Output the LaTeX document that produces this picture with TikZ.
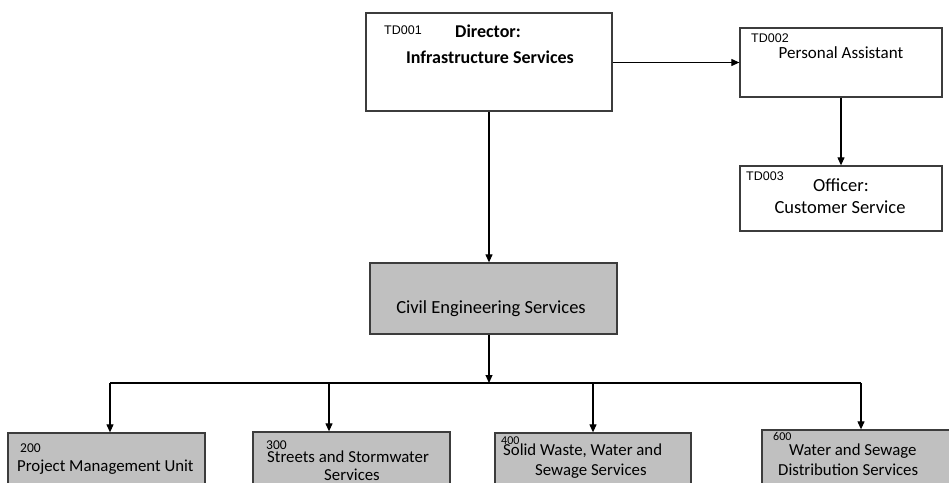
\documentclass[tikz,border=0pt]{standalone}
\usepackage{fontspec}
\setmainfont{Carlito}
\newfontfamily\codefont{Liberation Sans}
\usepackage{tikz}
\usetikzlibrary{arrows.meta,positioning,calc}

\definecolor{boxgray}{HTML}{C0C0C0}
\definecolor{edgegray}{HTML}{3C3C3C}

\begin{document}
\begin{tikzpicture}[>={Triangle[length=8pt,width=7pt]}, x=1pt, y=-1pt,
  unit/.style={draw=edgegray, line width=1.3pt, fill=white, inner sep=0pt},
  dept/.style={unit, fill=boxgray},
  link/.style={->, line width=1.1pt},
  code/.style={inner sep=0pt, anchor=base west, font=\codefont\fontsize{12.5}{14}\selectfont},
  num/.style={inner sep=0pt, anchor=base west, font=\fontsize{13.5}{15}\selectfont},
  lbl/.style={inner sep=0pt, anchor=base, font=\fontsize{18.5}{21}\selectfont},
  small/.style={inner sep=0pt, anchor=base west, font=\fontsize{16.8}{19}\selectfont}]
  \useasboundingbox (0,0) rectangle (949,482);
  \clip (0,0) rectangle (949,482);

  % Top level boxes
  \node[unit, minimum width=246pt, minimum height=98pt] (dir) at (489,62) {};
  \node[unit, minimum width=202pt, minimum height=69pt] (pa) at (841,62.5) {};
  \node[unit, minimum width=202pt, minimum height=65pt] (off) at (841,198.5) {};

  % Director text
  \node[code] (td1) at (384,34) {TD001};
  \node[lbl, font=\bfseries\fontsize{18}{21}\selectfont] (dirA) at (488,37) {Director:};
  \node[lbl, font=\bfseries\fontsize{18}{21}\selectfont] (dirB) at (490,63) {Infrastructure Services};

  % Assistant and officer text
  \node[code] (td2) at (751,42) {TD002};
  \node[lbl, font=\fontsize{17}{20}\selectfont] (paA) at (841,58) {Personal Assistant};
  \node[code] (td3) at (746,180) {TD003};
  \node[lbl] (offA) at (841,191) {Officer:};
  \node[lbl] (offB) at (840,213) {Customer Service};

  % Civil engineering box
  \node[dept, minimum width=247pt, minimum height=71pt] (ces) at (493.5,298.5) {};
  \node[lbl] (cesA) at (491,313) {Civil Engineering Services};

  % Bottom boxes (cut by the page edge)
  \node[dept, minimum width=197pt, minimum height=90pt] (b200) at (106.5,478) {};
  \node[dept, minimum width=197pt, minimum height=90pt] (b300) at (351.5,477) {};
  \node[dept, minimum width=196pt, minimum height=90pt] (b400) at (593,478) {};
  \node[dept, minimum width=190pt, minimum height=90pt] (b600) at (857,475) {};

  \node[num] (n200) at (20,452) {200};
  \node[small] (t200) at (17,471) {Project Management Unit};
  \node[num] (n300) at (266,449) {300};
  \node[small] (t300a) at (267,462) {Streets and Stormwater};
  \node[small, anchor=base] (t300b) at (352,480) {Services};
  \node[num, font=\fontsize{12}{14}\selectfont] (n400) at (501,444) {400};
  \node[small] (t400a) at (503,455) {Solid Waste, Water and};
  \node[small] (t400b) at (535,475) {Sewage Services};
  \node[num, font=\fontsize{12}{14}\selectfont] (n600) at (773,440) {600};
  \node[small] (t600a) at (789,455) {Water and Sewage};
  \node[small] (t600b) at (778,475) {Distribution Services};

  % Bus coordinates
  \coordinate (busL) at (110,383);
  \coordinate (busR) at (861,383);
  \coordinate (busM) at (489,383);

  % Connectors
  \draw[link] (dir.east |- pa.west) -- (pa.west);
  \draw[link] (pa.south) -- (off.north);
  \draw[link] (dir.south) -- (dir.south |- ces.north);
  \draw[link] (dir.south |- ces.south) -- (busM);
  \draw[line width=1.1pt] (busL) -- (busR);
  \draw[link] (busL) -- (busL |- b200.north);
  \draw[link] (329,383) -- (329,0 |- b300.north);
  \draw[link] (593,383) -- (b400.north);
  \draw[link] (busR) -- (busR |- b600.north);
\end{tikzpicture}
\end{document}
